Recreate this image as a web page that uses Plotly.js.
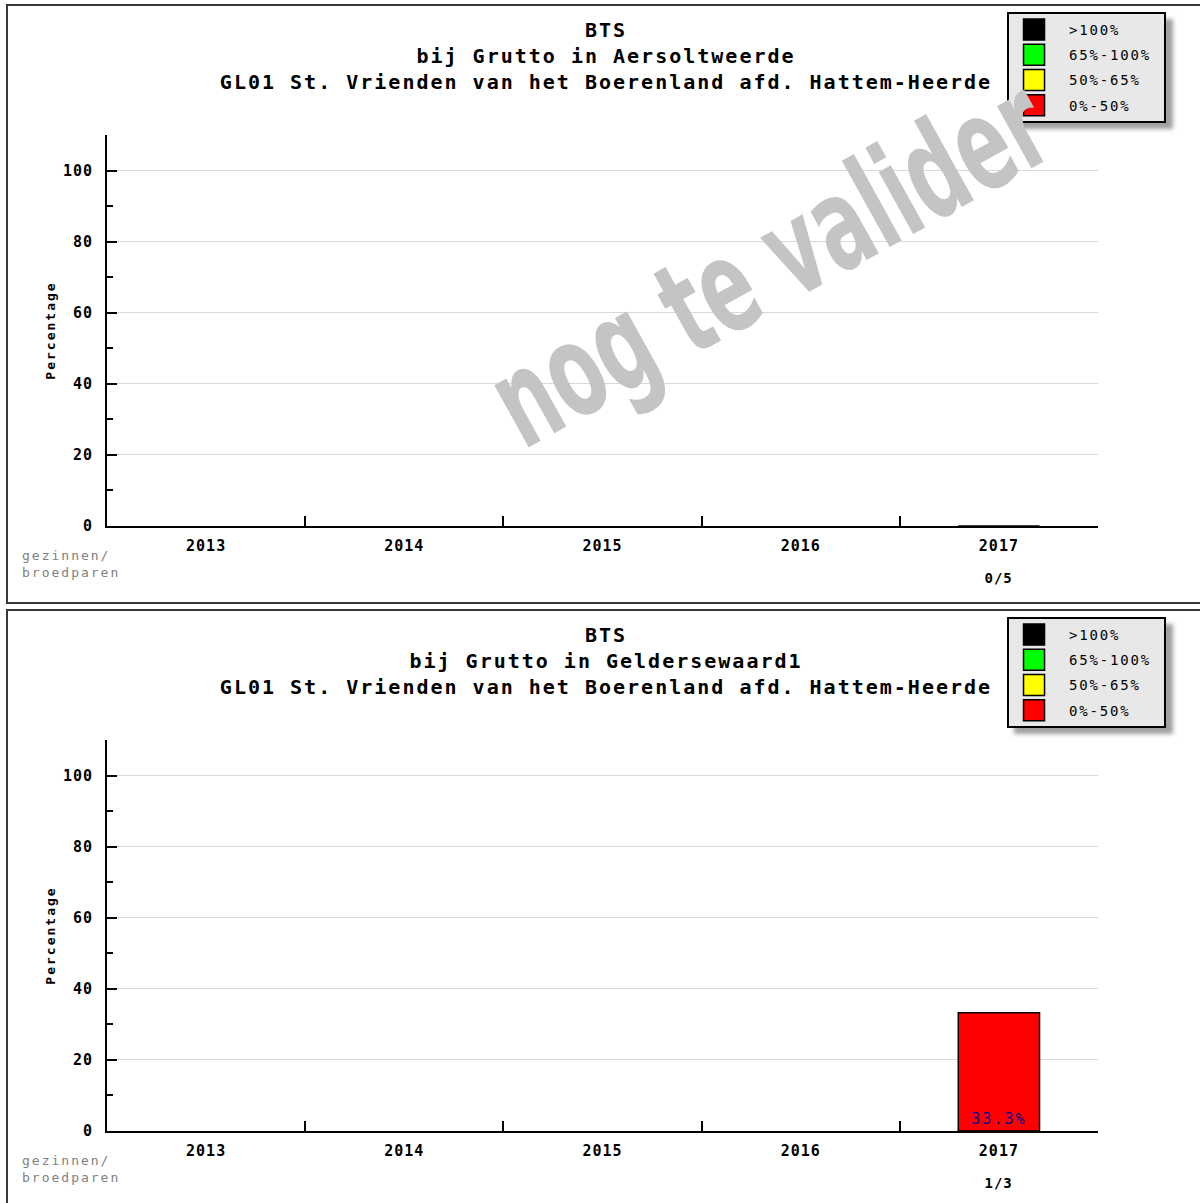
<!DOCTYPE html>
<html>
<head>
<meta charset="utf-8">
<script src="https://cdn.plot.ly/plotly-3.0.1.min.js"></script>
<style>
  html, body { margin: 0; padding: 0; background: #ffffff; overflow: hidden; width: 1200px; height: 1203px; }
  .panel { position: absolute; left: 6px; width: 1200px; height: 600px; box-sizing: border-box;
           border: 2px solid #383838; background: #ffffff; }
  .panel > div { width: 1196px; height: 596px; }
  .gtitle { letter-spacing: 2px; }
  .xtick text, .ytick text { letter-spacing: 1px; }
  .legendtext { letter-spacing: 1.8px; }
  .legend > rect.bg { width: 157px; }
  .legendpoints path.scatterpts { d: path("M5.5,10.5H-15.5V-10.5H5.5Z"); stroke-width: 1.5px !important; }
  .g-ytitle text { letter-spacing: 2px; }
  .bartext { letter-spacing: 2px; }
  .annotation[data-index="0"] text { letter-spacing: 2px; }
  .annotation[data-index="2"] text { letter-spacing: 1px; }
  #chart1 .annotation[data-index="1"] text {
    transform-box: fill-box; transform-origin: center; transform: scaleX(0.6);
  }
  .shapelayer path { filter: blur(2px); }
</style>
</head>
<body>
<div class="panel" style="top:4px"><div id="chart1"></div></div>
<div class="panel" style="top:609px"><div id="chart2"></div></div>
<script>
// ---- data ----
const years = ['2013', '2014', '2015', '2016', '2017'];
const titleTop = 'BTS';
const titleOrg = 'GL01 St. Vrienden van het Boerenland afd. Hattem-Heerde';
const subtitle1 = 'bij Grutto in Aersoltweerde';
const subtitle2 = 'bij Grutto in Geldersewaard1';
const pct1 = [null, null, null, null, 0];
const pct2 = [null, null, null, null, 33.3];
const counts1 = ['', '', '', '', '0/5'];
const counts2 = ['', '', '', '', '1/3'];
const legendLabels = ['>100%', '65%-100%', '50%-65%', '0%-50%'];
const legendColors = ['#000000', '#00ff00', '#ffff00', '#ff0000'];
const yTitle = 'Percentage';
const unitLabel = 'gezinnen/<br>broedparen';
const watermarkText = 'nog te valider';

const MONO = '"DejaVu Sans Mono", "Liberation Mono", monospace';

function binColor(v) {
  if (v === null) return legendColors[3];
  if (v > 100) return legendColors[0];
  if (v >= 65) return legendColors[1];
  if (v >= 50) return legendColors[2];
  return legendColors[3];
}

function makeChart(divId, subtitle, pct, counts, watermark) {
  const traces = [{
    type: 'bar',
    x: years,
    y: pct,
    width: 0.41,
    marker: { color: pct.map(binColor), line: { color: '#000000', width: 1.5 } },
    text: pct.map(v => (v !== null && v > 0) ? v.toFixed(1) + '%' : ''),
    textposition: 'inside',
    insidetextanchor: 'start',
    textangle: 0,
    textfont: { family: MONO, size: 15, color: '#000099' },
    showlegend: false,
    hoverinfo: 'x+y'
  }];
  legendLabels.forEach((lab, i) => {
    traces.push({
      type: 'scatter', mode: 'markers', x: [null], y: [null],
      name: lab, legendgroup: 'g' + i,
      marker: { symbol: 'square', size: 16, color: legendColors[i], line: { color: '#000000', width: 1.5 } },
      showlegend: true
    });
  });

  // index 0: unit label, index 1: watermark (chart1 only), then counts
  const annotations = [{
    xref: 'paper', yref: 'paper', x: -0.0878, y: -0.0972, text: unitLabel, showarrow: false,
    xanchor: 'left', yanchor: 'middle', align: 'left',
    font: { family: MONO, size: 13, color: '#808080' }
  }];
  if (watermark) {
    annotations.push({
      xref: 'paper', yref: 'paper', x: 0.669, y: 0.675, text: watermarkText, showarrow: false,
      xanchor: 'center', yanchor: 'middle', textangle: -29,
      font: { family: '"DejaVu Sans", sans-serif', size: 130, color: '#c4c4c4', weight: 'bold' }
    });
  } else {
    annotations.push({
      xref: 'paper', yref: 'paper', x: 0.5, y: 0.5, text: '', showarrow: false, visible: false
    });
  }
  counts.forEach((c, i) => {
    if (c !== '') {
      annotations.push({
        xref: 'x', yref: 'paper', x: i, y: -0.133, text: c, showarrow: false,
        xanchor: 'center', yanchor: 'middle',
        font: { family: MONO, size: 14, color: '#000000', weight: 'bold' }
      });
    }
  });

  const layout = {
    width: 1196, height: 596,
    margin: { l: 99, r: 106, t: 129, b: 76, pad: 0, autoexpand: false },
    paper_bgcolor: '#ffffff', plot_bgcolor: '#ffffff',
    font: { family: MONO, color: '#000000' },
    barmode: 'overlay',
    title: {
      text: titleTop + '<br>' + subtitle + '<br>' + titleOrg,
      xref: 'container', x: 0.5, xanchor: 'center',
      yref: 'container', y: 0.948, yanchor: 'top',
      font: { family: MONO, size: 20, color: '#000000', weight: 'bold' }
    },
    xaxis: {
      type: 'category', categoryorder: 'array', categoryarray: years,
      range: [-0.5, 4.5], fixedrange: true, automargin: false,
      showline: true, linecolor: '#000000', linewidth: 2,
      showgrid: false, zeroline: false,
      ticks: 'inside', tickson: 'boundaries', ticklen: 10, tickwidth: 2, tickcolor: '#000000',
      ticklabelstandoff: 5,
      tickfont: { family: MONO, size: 15, color: '#000000', weight: 'bold' }
    },
    yaxis: {
      range: [0, 110], fixedrange: true, automargin: false,
      tick0: 0, dtick: 20,
      showline: true, linecolor: '#000000', linewidth: 2,
      showgrid: true, gridcolor: '#d9d9d9', gridwidth: 1, zeroline: false,
      ticks: 'inside', ticklen: 10, tickwidth: 2, tickcolor: '#000000',
      ticklabelstandoff: 9,
      tickfont: { family: MONO, size: 15, color: '#000000', weight: 'bold' },
      minor: { dtick: 10, tick0: 0, ticks: 'inside', ticklen: 6, tickwidth: 2, tickcolor: '#000000', showgrid: false },
      title: { text: yTitle, standoff: 4, font: { family: MONO, size: 13, color: '#000000', weight: 'bold' } }
    },
    showlegend: true,
    legend: {
      x: 0.9082, y: 1.3146, xanchor: 'left', yanchor: 'top',
      bgcolor: '#e8e8e8', bordercolor: '#000000', borderwidth: 2,
      font: { family: MONO, size: 14, color: '#000000' },
      itemwidth: 50,
      tracegroupgap: 4, traceorder: 'grouped', itemclick: false, itemdoubleclick: false
    },
    shapes: [{
      type: 'rect', xref: 'paper', yref: 'paper', layer: 'above',
      x0: 0.9153, x1: 1.0757, y0: 1.0153, y1: 1.2967,
      fillcolor: '#a0a0a0', line: { width: 0 }
    }],
    annotations: annotations
  };
  return Plotly.newPlot(divId, traces, layout, { staticPlot: true, displayModeBar: false });
}

makeChart('chart1', subtitle1, pct1, counts1, true);
makeChart('chart2', subtitle2, pct2, counts2, false);
</script>
</body>
</html>
